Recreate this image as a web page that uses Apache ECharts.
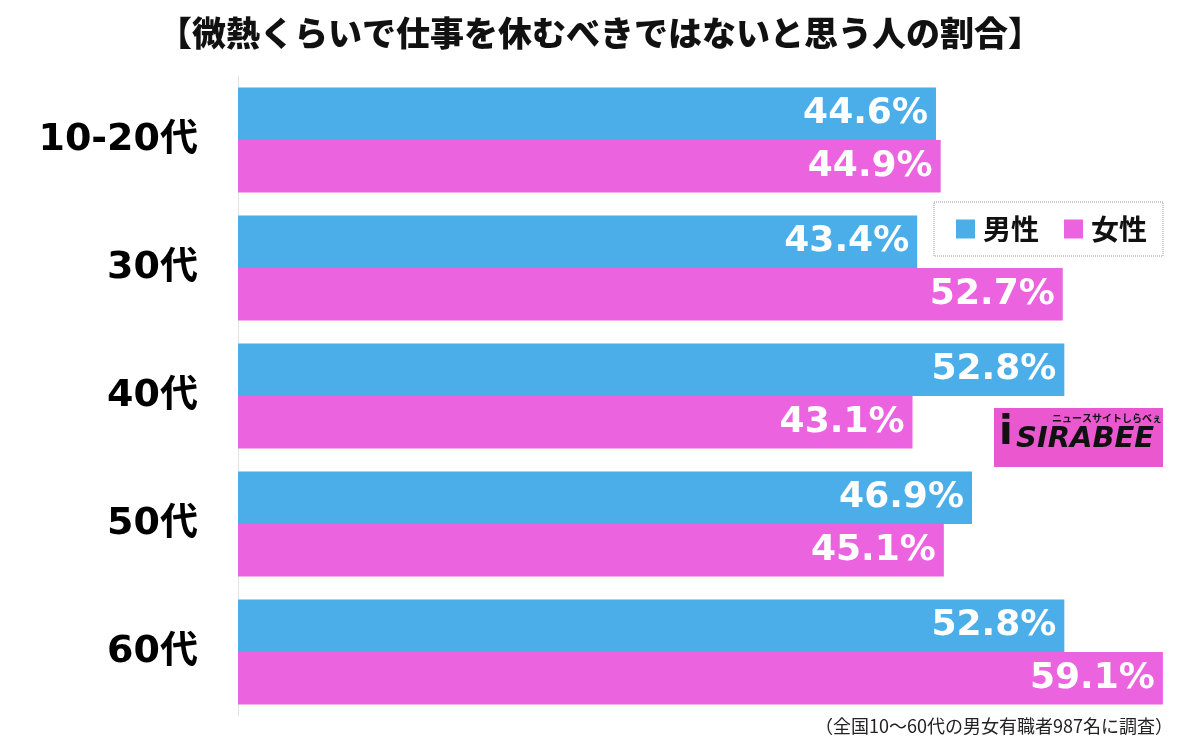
<!DOCTYPE html>
<html><head><meta charset="utf-8">
<script src="https://cdn.jsdelivr.net/npm/echarts@6/dist/echarts.min.js"></script>
<style>html,body{margin:0;padding:0;background:#fff}#c{width:1200px;height:750px}</style>
</head><body><div id="c"></div>
<script>
const categories = ['10-20代', '30代', '40代', '50代', '60代'];
const seriesNames = ['男性', '女性'];
const maleValues = [44.6, 43.4, 52.8, 46.9, 52.8];
const femaleValues = [44.9, 52.7, 43.1, 45.1, 59.1];
const titleText = '【微熱くらいで仕事を休むべきではないと思う人の割合】';
const noteText = '（全国10〜60代の男女有職者987名に調査）';

const FONT = '"Noto Sans CJK JP", "Noto Sans", sans-serif';
const NUMFONT = '"DejaVu Sans", "Noto Sans CJK JP", sans-serif';
const chart = echarts.init(document.getElementById('c'), null, {renderer: 'canvas'});
const labelCfg = {
  show: true, position: 'insideRight', distance: 8,
  color: '#fff', fontSize: 36, fontWeight: 'bold', fontFamily: NUMFONT,
  formatter: p => p.value.toFixed(1) + '%'
};
chart.setOption({
  backgroundColor: '#fff',
  animation: false,
  title: {
    text: titleText, left: 'center', top: 11,
    textStyle: {fontSize: 34, fontWeight: 900, color: '#111', fontFamily: FONT}
  },
  legend: {
    data: seriesNames, left: 934, top: 202,
    orient: 'horizontal',
    itemWidth: 19, itemHeight: 19, itemGap: 25,
    icon: 'rect',
    padding: [13, 16, 13, 22],
    borderColor: '#999', borderWidth: 1, borderType: 'dotted',
    textStyle: {fontSize: 28, fontWeight: 'bold', color: '#111', fontFamily: FONT, padding: [0,0,0,3]}
  },
  grid: {left: 238, right: 23, top: 76, height: 640, containLabel: false},
  xAxis: {type: 'value', min: 0, max: 60, show: false, splitLine: {show: false}},
  yAxis: {
    type: 'category', data: categories, inverse: true,
    axisLine: {show: true, lineStyle: {color: '#e2e2e2', width: 1}},
    axisTick: {show: false},
    axisLabel: {margin: 40, fontSize: 38, fontWeight: 'bold', color: '#000', fontFamily: NUMFONT}
  },
  series: [
    {name: seriesNames[0], type: 'bar', data: maleValues, barWidth: 52.5, barGap: '0%',
     itemStyle: {color: '#4BAEE8'}, label: labelCfg},
    {name: seriesNames[1], type: 'bar', data: femaleValues, barWidth: 52.5, barGap: '0%',
     itemStyle: {color: '#EB63DE'}, label: labelCfg}
  ],
  graphic: [
    {type: 'rect', left: 994, top: 408, shape: {width: 169, height: 59}, style: {fill: '#EA57CF'}},
    {type: 'text', left: 1016, top: 425, style: {text: 'SIRABEE', fontSize: 29, fontWeight: 900, fontStyle: 'italic', fill: '#111', fontFamily: '"DejaVu Sans", sans-serif'}},
    {type: 'text', left: 1052, top: 413, style: {text: 'ニュースサイトしらべぇ', fontSize: 10, fontWeight: 'bold', fill: '#111', fontFamily: FONT}},
    {type: 'text', left: 999, top: 414, style: {text: 'i', fontSize: 40, fontWeight: 900, fill: '#111', fontFamily: '"DejaVu Sans", sans-serif'}},
    {type: 'text', right: 27, top: 717, style: {text: noteText, fontSize: 18, fill: '#222', fontFamily: FONT}}
  ]
});
</script></body></html>
